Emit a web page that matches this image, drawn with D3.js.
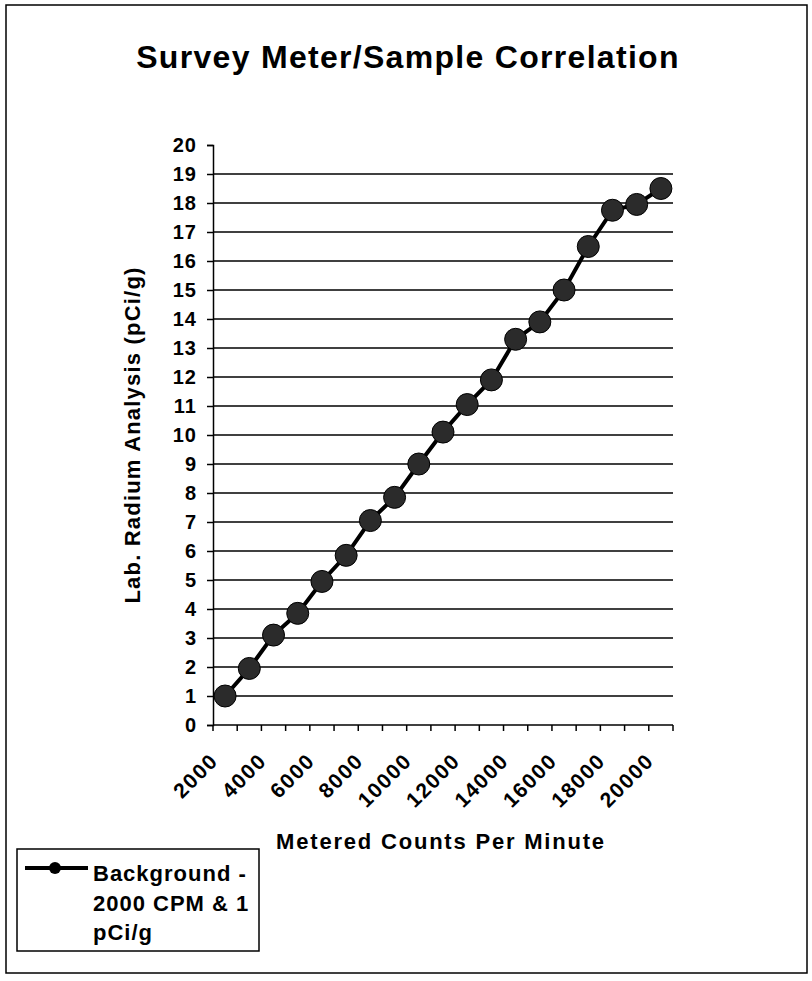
<!DOCTYPE html>
<html>
<head>
<meta charset="utf-8">
<script src="https://cdn.jsdelivr.net/npm/d3@7"></script>
<style>
  body { margin: 0; background: #fff; }
  svg text { font-family: "Liberation Sans", Arial, sans-serif; font-weight: bold; fill: #000; }
</style>
</head>
<body>
<div id="chart"></div>
<script>
// categories on the x axis (Excel line chart, one category per 1000 CPM)
const cpm = [2000, 3000, 4000, 5000, 6000, 7000, 8000, 9000, 10000, 11000,
             12000, 13000, 14000, 15000, 16000, 17000, 18000, 19000, 20000];
// lab radium values
const radium = [1, 1.95, 3.1, 3.85, 4.95, 5.85, 7.05, 7.85, 9, 10.1,
                11.05, 11.9, 13.3, 13.9, 15, 16.5, 17.75, 17.95, 18.5];
const xLabels = [2000, 4000, 6000, 8000, 10000, 12000, 14000, 16000, 18000, 20000];
const yTicks = [0, 1, 2, 3, 4, 5, 6, 7, 8, 9, 10, 11, 12, 13, 14, 15, 16, 17, 18, 19, 20];
const legendLines = ["Background -", "2000 CPM & 1", "pCi/g"];

const W = 812, H = 981;
const plot = {left: 213, right: 673, top: 145, bottom: 725};

const svg = d3.select("#chart").append("svg")
    .attr("width", W).attr("height", H);

// outer chart border
svg.append("rect")
    .attr("x", 6).attr("y", 5).attr("width", 801).attr("height", 968)
    .attr("fill", "#fff").attr("stroke", "#000").attr("stroke-width", 1.5);

const x = d3.scaleBand().domain(cpm).range([plot.left, plot.right]).padding(0);
const y = d3.scaleLinear().domain([0, 20]).range([plot.bottom, plot.top]);

// horizontal gridlines (not at 0 or top)
svg.append("g").selectAll("line")
    .data(yTicks.filter(d => d > 0 && d < 20))
    .join("line")
    .attr("x1", plot.left).attr("x2", plot.right)
    .attr("y1", d => y(d)).attr("y2", d => y(d))
    .attr("stroke", "#000").attr("stroke-width", 1.5);

// y axis
const yAxis = svg.append("g")
    .attr("transform", `translate(${plot.left},0)`)
    .call(d3.axisLeft(y).tickValues(yTicks).tickSize(6).tickPadding(10));
yAxis.select(".domain").attr("stroke", "#000").attr("stroke-width", 1.5);
yAxis.selectAll(".tick line").attr("stroke", "#000").attr("stroke-width", 1.5);
yAxis.selectAll(".tick text").attr("font-size", 20)
    .style("letter-spacing", "1px")
    .style("font-family", '"Liberation Sans", Arial, sans-serif').style("font-weight", "bold");

// x axis: line, tick marks at band edges
const xg = svg.append("g");
xg.append("line")
    .attr("x1", plot.left).attr("x2", plot.right)
    .attr("y1", plot.bottom).attr("y2", plot.bottom)
    .attr("stroke", "#000").attr("stroke-width", 1.5);
const edges = cpm.map(d => x(d)).concat([x(cpm[cpm.length - 1]) + x.bandwidth()]);
xg.selectAll("line.tk").data(edges).join("line").attr("class", "tk")
    .attr("x1", d => d).attr("x2", d => d)
    .attr("y1", plot.bottom).attr("y2", plot.bottom + 6)
    .attr("stroke", "#000").attr("stroke-width", 1.5);
xg.selectAll("text").data(xLabels).join("text")
    .attr("transform", d => `translate(${x(d) + x.bandwidth() / 2 - 11},${plot.bottom + 32}) rotate(-45)`)
    .attr("text-anchor", "end")
    .attr("dy", "0.35em")
    .attr("font-size", 21)
    .style("letter-spacing", "1.5px")
    .text(d => d);

// series line + markers
const line = d3.line()
    .x((d, i) => x(cpm[i]) + x.bandwidth() / 2)
    .y(d => y(d));
svg.append("path").datum(radium)
    .attr("d", line)
    .attr("fill", "none").attr("stroke", "#000").attr("stroke-width", 4);
svg.append("g").selectAll("circle").data(radium).join("circle")
    .attr("cx", (d, i) => x(cpm[i]) + x.bandwidth() / 2)
    .attr("cy", d => y(d))
    .attr("r", 11)
    .attr("fill", "#2b2b2b").attr("stroke", "#000").attr("stroke-width", 1);

// titles
svg.append("text")
    .attr("x", 408).attr("y", 68)
    .attr("text-anchor", "middle").attr("font-size", 32)
    .style("letter-spacing", "1.3px")
    .text("Survey Meter/Sample Correlation");
svg.append("text")
    .attr("x", 441).attr("y", 849)
    .attr("text-anchor", "middle").attr("font-size", 22)
    .style("letter-spacing", "1.8px")
    .text("Metered Counts Per Minute");
svg.append("text")
    .attr("transform", "translate(140,435) rotate(-90)")
    .attr("text-anchor", "middle").attr("font-size", 22)
    .style("letter-spacing", "1.2px")
    .text("Lab. Radium Analysis (pCi/g)");

// legend
const lg = svg.append("g");
lg.append("rect")
    .attr("x", 17).attr("y", 849).attr("width", 242).attr("height", 102)
    .attr("fill", "#fff").attr("stroke", "#000").attr("stroke-width", 1.5);
lg.append("line")
    .attr("x1", 25).attr("x2", 88).attr("y1", 868).attr("y2", 868)
    .attr("stroke", "#000").attr("stroke-width", 4);
lg.append("circle").attr("cx", 55).attr("cy", 868).attr("r", 6).attr("fill", "#000");
lg.selectAll("text").data(legendLines).join("text")
    .attr("x", 93).attr("y", (d, i) => 881 + i * 29.5)
    .attr("font-size", 22)
    .style("letter-spacing", "1px")
    .text(d => d);
</script>
</body>
</html>
